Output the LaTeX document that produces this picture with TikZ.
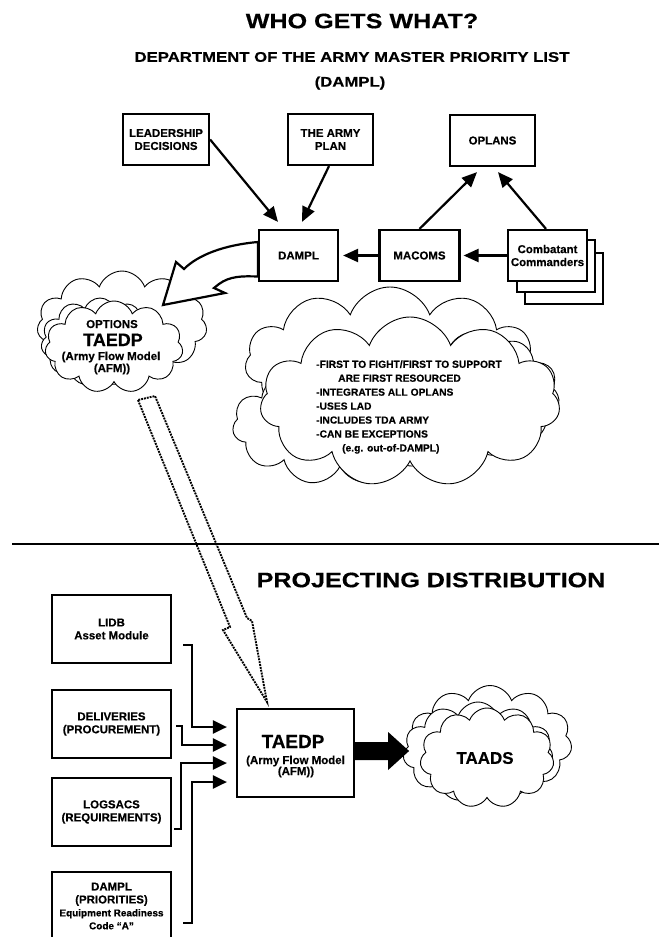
\documentclass[tikz,border=0pt]{standalone}
\usepackage{fontspec}
\setmainfont{Liberation Sans}[BoldFeatures={FakeBold=0.4}]
\newfontfamily\widefont{Liberation Sans}[FakeStretch=1.2,BoldFeatures={FakeBold=0.4}]
\usetikzlibrary{shapes.symbols,arrows.meta,calc}
\begin{document}
\begin{tikzpicture}[x=1bp,y=-1bp,
  box/.style={draw, line width=2.2bp, fill=white, align=center, inner sep=0pt,
    font=\bfseries\fontsize{11.5}{13}\selectfont},
  conn/.style={line width=2.2bp, -{Triangle[length=15bp,width=13bp]}},
  lconn/.style={line width=2.2bp, -{Triangle[length=14bp,width=13bp]}, shorten >=9bp},
  cloudy/.style={cloud, cloud puffs=11, cloud puff arc=140, cloud ignores aspect,
    draw, line width=0.9bp, fill=white, inner sep=0pt},
  ttl/.style={font=\widefont\bfseries\fontsize{21}{24}\selectfont, inner sep=0pt},
  sub/.style={font=\widefont\bfseries\fontsize{14}{16}\selectfont, inner sep=0pt},
  txt/.style={inner sep=0pt, anchor=base}
]
\useasboundingbox (0,0) rectangle (659,937);

% titles
\node[ttl] (t1) at (362,21) {WHO GETS WHAT?};
\node[sub] (t2) at (352,57) {DEPARTMENT OF THE ARMY MASTER PRIORITY LIST};
\node[sub] (t3) at (350,83) {(DAMPL)};
\node[ttl] (t4) at (431,580) {PROJECTING DISTRIBUTION};

% separator
\coordinate (sepL) at (12,544);
\coordinate (sepR) at (659,544);
\draw[line width=2.2bp] (sepL) -- (sepR);

% clouds (top)
\node[cloudy, minimum width=170bp, minimum height=108bp] (optA) at (122,325) {};
\node[cloudy, minimum width=118bp, minimum height=88bp] (optB) at (100,342) {};
\node[cloudy, minimum width=138bp, minimum height=92bp] (opt) at (114,347) {};
\node[txt, font=\bfseries\fontsize{11.5}{12}\selectfont] (o1) at (112,328) {OPTIONS};
\node[txt, font=\bfseries\fontsize{18}{18}\selectfont] (o2) at (113,346) {TAEDP};
\node[txt, font=\bfseries\fontsize{11.5}{12}\selectfont] (o3) at (111,360) {(Army Flow Model};
\node[txt, font=\bfseries\fontsize{11.5}{12}\selectfont] (o4) at (112,372) {(AFM))};

\node[cloudy, minimum width=290bp, minimum height=150bp] (bigA) at (390,362) {};
\node[cloudy, minimum width=175bp, minimum height=125bp] (bigC) at (472,395) {};
\node[cloudy, minimum width=215bp, minimum height=120bp] (bigB) at (340,425) {};
\node[cloudy, minimum width=300bp, minimum height=170bp] (big) at (410,402) {};
\node[anchor=west, align=left, inner sep=0pt, font=\bfseries\fontsize{10.3}{14}\selectfont] (bigtxt) at (316,407)
 {-FIRST TO FIGHT/FIRST TO SUPPORT\\\hspace*{22bp}ARE FIRST RESOURCED\\-INTEGRATES ALL OPLANS\\-USES LAD\\-INCLUDES TDA ARMY\\-CAN BE EXCEPTIONS\\\hspace*{26bp}(e.g. out-of-DAMPL)};

% top boxes
\node[box, minimum width=86bp, minimum height=51bp] (lead) at (166,139.5) {LEADERSHIP\\DECISIONS};
\node[box, minimum width=85bp, minimum height=51bp] (plan) at (330.5,139.5) {THE ARMY\\PLAN};
\node[box, minimum width=85bp, minimum height=51bp] (oplans) at (492.5,140.5) {OPLANS};
\node[box, minimum width=79bp, minimum height=51bp] (dampl) at (298.5,255.5) {DAMPL};
\node[box, minimum width=80bp, minimum height=51bp] (macoms) at (419.5,255.5) {MACOMS};
\node[box, minimum width=78bp, minimum height=51bp] (cc3) at (564,278.5) {};
\node[box, minimum width=78bp, minimum height=52bp] (cc2) at (556,266) {};
\node[box, minimum width=79bp, minimum height=51bp] (cc) at (547.5,255.5) {Combatant\\Commanders};

% top connectors
\draw[conn] (lead.east) -- ($(dampl.north)+(-20.5,-7)$);
\draw[conn] ($(plan.south)+(-1.5,0)$) -- ($(dampl.north)+(3.5,-7)$);
\draw[conn] (macoms.north) -- ($(oplans.south)+(-15.5,5)$);
\draw[conn] ($(cc.north)+(-1.5,0)$) -- ($(oplans.south)+(5.5,5)$);
\draw[conn, shorten >=4bp] (macoms.west) -- (dampl.east);
\draw[conn, shorten >=3bp] (cc.west) -- (macoms.east);

% curved hollow arrow DAMPL -> options cloud
\draw[line width=2.2bp, fill=white, line join=miter]
  ($(dampl.west)+(0,-13.5)$) .. controls (224,245) and (198,255) .. (184,269)
  -- (176,262) -- (163,305) -- (225,293) -- (214,288) -- (219,284)
  .. controls (230,276) and (242,276) .. ($(dampl.west)+(0,21)$) -- cycle;

% dotted hollow arrow options -> TAEDP
\draw[densely dotted, line width=1.9bp]
  (138,400) -- (230,627) -- (223,630) -- (267,702) -- (252,621) -- (247,618) -- (155,396) -- cycle;

% lower boxes
\node[box, minimum width=119bp, minimum height=68bp] (lidb) at (111.5,629) {LIDB\\Asset Module};
\node[box, minimum width=119bp, minimum height=68bp] (deliv) at (111.5,724) {DELIVERIES\\(PROCUREMENT)};
\node[box, minimum width=119bp, minimum height=68bp] (logs) at (111.5,812) {LOGSACS\\(REQUIREMENTS)};
\node[box, minimum width=119bp, minimum height=68bp] (dampltwo) at (111.5,906)
  {DAMPL\\(PRIORITIES)\\{\fontsize{10}{13}\selectfont Equipment Readiness}\\{\fontsize{10}{13}\selectfont Code ``A''}};
\node[box, minimum width=117bp, minimum height=88bp] (taedp) at (295.5,753) {};
\node[txt, font=\bfseries\fontsize{19}{19}\selectfont] (a1) at (293,748) {TAEDP};
\node[txt, font=\bfseries\fontsize{11.5}{12}\selectfont] (a2) at (295.5,764) {(Army Flow Model};
\node[txt, font=\bfseries\fontsize{11.5}{12}\selectfont] (a3) at (296,775) {(AFM))};

% lower connectors
\draw[lconn] ($(lidb.east)+(11,16)$) -| ($(taedp.west)+(-44,-26)$) -- ($(taedp.west)+(0,-26)$);
\draw[lconn] ($(deliv.east)+(4,2)$) -| ($(taedp.west)+(-54,-8)$) -- ($(taedp.west)+(0,-8)$);
\draw[lconn] ($(logs.east)+(2,17)$) -| ($(taedp.west)+(-55,10)$) -- ($(taedp.west)+(0,10)$);
\draw[lconn] ($(dampltwo.east)+(11,17)$) -| ($(taedp.west)+(-44,29)$) -- ($(taedp.west)+(0,29)$);

% TAADS cloud
\node[cloudy, minimum width=164bp, minimum height=113bp] (taadsA) at (490,742) {};
\node[cloudy, minimum width=150bp, minimum height=100bp] (taadsB) at (478,752) {};
\node[cloudy, minimum width=134bp, minimum height=100bp] (taads) at (487,758) {};
\node[inner sep=0pt, font=\bfseries\fontsize{17}{18}\selectfont] (taadstxt) at (485,758) {TAADS};

% big black arrow TAEDP -> TAADS
\fill ($(taedp.east)+(0,-11)$) -- ++(33,0) -- ++(0,-10) -- ($(taedp.east)+(54,-2)$)
  -- ($(taedp.east)+(33,17)$) -- ++(0,-10) -- ($(taedp.east)+(0,7)$) -- cycle;
\end{tikzpicture}
\end{document}
